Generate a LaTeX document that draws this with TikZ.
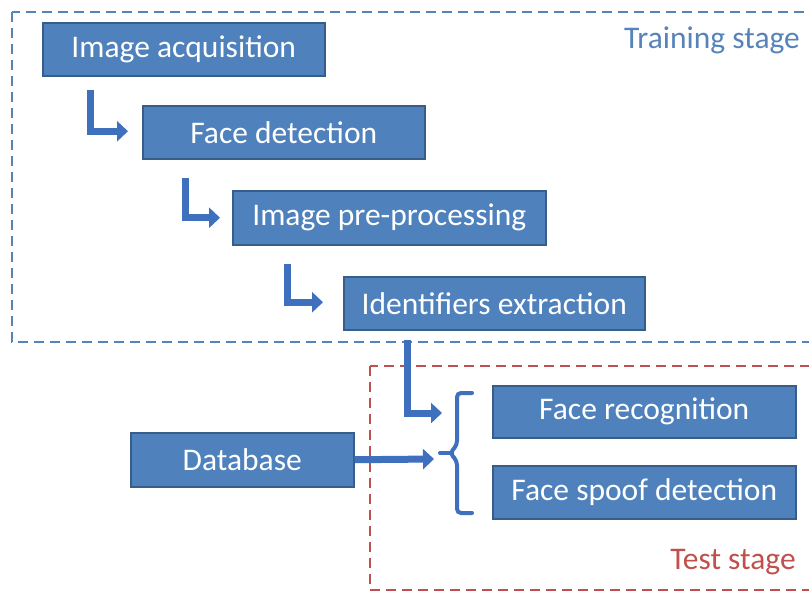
\documentclass[tikz,border=0pt]{standalone}
\usepackage{fontspec}
\setmainfont{Carlito}
\usetikzlibrary{arrows.meta,calc}
\definecolor{boxfill}{RGB}{79,129,189}
\definecolor{boxline}{RGB}{56,93,138}
\definecolor{trainc}{RGB}{86,131,186}
\definecolor{testc}{RGB}{192,80,77}
\definecolor{arrowc}{RGB}{62,112,190}
\tikzset{
  stepbox/.style={draw=boxline, line width=1.5pt, fill=boxfill, text=white, font=\fontsize{31.5}{36}\selectfont, inner sep=0pt, anchor=north west},
  flow/.style={draw=arrowc, line width=7pt, -{Triangle[length=11pt,width=20pt]}},
  stagebox/.style={line width=2.6pt, dash pattern=on 10pt off 6pt},
  brace/.style={draw=arrowc, line width=4pt, line cap=round, rounded corners=4pt}
}
\begin{document}
\begin{tikzpicture}[x=1pt,y=-1pt]
\useasboundingbox (0,0) rectangle (809,592);
\begin{scope}
\clip (0,0) rectangle (809,592);
\draw[stagebox, draw=trainc] (12,12) rectangle (830,342);
\draw[stagebox, draw=testc] (370,366) rectangle (830,590);
\end{scope}
\node[text=trainc, font=\fontsize{31.5}{36}\selectfont] (train) at (712,40) {Training stage};
\node[text=testc, font=\fontsize{31.5}{36}\selectfont] (test) at (733,562) {Test stage};

\node[stepbox, minimum width=282pt, minimum height=53pt] (acq) at (42,22) {Image acquisition};
\node[stepbox, minimum width=282pt, minimum height=53pt] (det) at (142,105) {Face detection};
\node[stepbox, minimum width=313pt, minimum height=54pt] (pre) at (232,190) {Image pre-processing};
\node[stepbox, minimum width=301pt, minimum height=53pt] (ext) at (343,276) {Identifiers extraction};
\node[stepbox, minimum width=303pt, minimum height=52pt] (rec) at (492,385) {Face recognition};
\node[stepbox, minimum width=303pt, minimum height=53pt] (spoof) at (492,465) {Face spoof detection};
\node[stepbox, minimum width=223pt, minimum height=54pt] (db) at (130,432) {Database};

\coordinate (btip) at (440,453);
\coordinate (bin) at (442,413);
\coordinate (dbin) at (434,459);
\draw[brace] (472,393) -- (457,393) -- (457,445) -- (450,453) -- (457,461) -- (457,513) -- (472,513);
\draw[brace, rounded corners=0pt] (450,453) -- (btip);

\draw[flow] ($(acq.south west)+(48,13)$) |- ($(det.west)+(-14,-1)$);
\draw[flow] ($(det.south west)+(43,18)$) |- ($(pre.west)+(-12,0)$);
\draw[flow] ($(pre.south west)+(55,18)$) |- ($(ext.west)+(-20,-1)$);
\draw[flow] ($(ext.south west)+(64,9)$) |- (bin);
\draw[flow] (db.east) -- (dbin);
\end{tikzpicture}
\end{document}
